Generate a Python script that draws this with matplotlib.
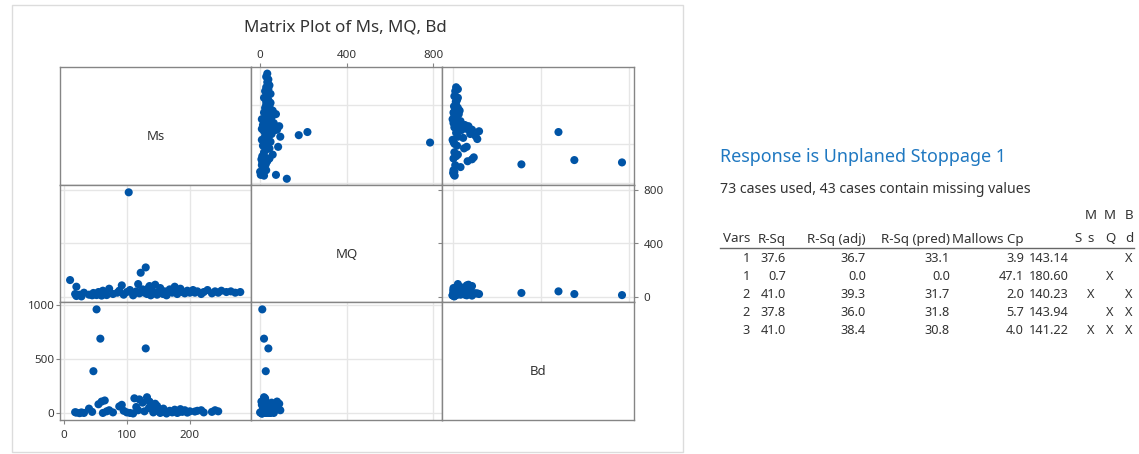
import matplotlib
matplotlib.use('Agg')
from matplotlib import pyplot as plt
from matplotlib.patches import Rectangle
import numpy as np

nan = np.nan

# matrix plot data (one row per case, nan = missing)
ms = [20, 25, 28, 32, 45, 47, 52, 55, 58, 60, 62, 65, 68, 72, 78, 85, 92, 95, 100, 103,
      105, 110, 115, 118, 120, 122, 125, 128, 130, 130, 132, 135, 138, 140, 142, 145, 148, 150,
      153, 156, 160, 163, 168, 172, 176, 180, 185, 188, 192, 196, 200, 205, 212, 218, 222, 228,
      235, 240, 245, 250, 258, 265, 272, 280, 10, 20, 18, 40, 88, 112, 136, 158, 182, 208]
mq = [5, 15, 2, 30, 10, 28, 12, 35, 20, 8, 45, 25, 12, 60, 20, 30, 85, 15, 35, 785,
      50, 10, 40, 95, 25, 180, 55, 30, 220, 40, 20, 70, 10, 45, 30, 90, 15, 35,
      65, 25, 40, 10, 55, 30, 75, 20, 60, 35, 25, 45, 30, 50, 40, 20, 35, 50,
      25, 40, 30, 45, 35, 40, 30, 35, 125, 75, 20, 15, 45, 25, 80, 20, 40, 30]
bd = [8, 3, 10, 5, 15, 390, 960, 85, 690, 110, 5, 120, 20, 30, 10, nan, 80, 25, 10, nan,
      5, 0, 60, 30, 130, nan, 100, 20, nan, 600, 150, 50, 80, 40, 10, 90, 70, 20,
      5, 30, 15, 0, 25, 10, 35, 5, 40, 15, 30, 8, 20, nan, 25, 30, 10, nan,
      15, 30, 20, nan, nan, nan, nan, nan, nan, nan, 12, 45, 65, 140, 110, 45, 12, 18]

var_names = ['Ms', 'MQ', 'Bd']
var_limits = [(-6, 297), (-40, 840), (-60, 1028)]
var_ticks = [[0, 100, 200], [0, 400, 800], [0, 500, 1000]]

# best subsets table
table_header = ['Vars', 'R-Sq', 'R-Sq (adj)', 'R-Sq (pred)', 'Mallows Cp']
vars_count = [1, 1, 2, 2, 3]
r_sq = [37.6, 0.7, 41.0, 37.8, 41.0]
r_sq_adj = [36.7, 0.0, 39.3, 36.0, 38.4]
r_sq_pred = [33.1, 0.0, 31.7, 31.8, 30.8]
mallows_cp = [3.9, 47.1, 2.0, 5.7, 4.0]
s_values = [143.14, 180.60, 140.23, 143.94, 141.22]
uses_ms = [False, False, True, False, True]
uses_mq = [False, True, False, True, True]
uses_bd = [True, False, True, True, True]

W, H = 1139, 454
blue = '#0054a6'
text_color = '#333333'
plt.rcParams['font.family'] = ['Noto Sans', 'DejaVu Sans']


def px_box(x0, y0, x1, y1):
    return [x0 / W, 1 - y1 / H, (x1 - x0) / W, (y1 - y0) / H]


fig = plt.figure(figsize=(W / 100, H / 100), dpi=100)

# light frame around the graph
fig.patches.append(Rectangle((12 / W, 1 - 452 / H), 671 / W, 447 / H, transform=fig.transFigure,
                             fill=False, edgecolor='#dcdcdc', linewidth=1))

fig.text(345 / W, 1 - 28 / H, 'Matrix Plot of Ms, MQ, Bd', ha='center', va='center',
         fontsize=12.2, color=text_color)

col_edges = [60, 251, 442, 634]
row_edges = [67, 185, 302, 420]
data = [np.array(ms, dtype=float), np.array(mq, dtype=float), np.array(bd, dtype=float)]

for r in range(3):
    for c in range(3):
        ax = fig.add_axes(px_box(col_edges[c], row_edges[r], col_edges[c + 1], row_edges[r + 1]))
        ax.set_xlim(*var_limits[c])
        ax.set_ylim(*var_limits[r])
        for spine in ax.spines.values():
            spine.set_color('#858585')
            spine.set_linewidth(1)
        ax.tick_params(axis='both', which='both', length=0, labelbottom=False, labelleft=False,
                       colors='#858585', labelcolor=text_color, labelsize=8.3)
        if r == c:
            ax.set_xticks([])
            ax.set_yticks([])
            ax.text(0.5, 0.41, var_names[r], transform=ax.transAxes, ha='center', va='center',
                    fontsize=9.5, color=text_color)
            continue
        ax.set_xticks(var_ticks[c])
        ax.set_yticks(var_ticks[r])
        ax.grid(True, color='#e6e6e6', linewidth=1)
        ax.set_axisbelow(True)
        x, y = data[c], data[r]
        ok = ~np.isnan(x) & ~np.isnan(y)
        ax.scatter(x[ok], y[ok], s=34, color=blue, edgecolors='none', zorder=3)

        # outer tick labels like Minitab
        if r == 0 and c == 1:
            ax.tick_params(axis='x', top=True, labeltop=True, length=3, pad=1)
        if r == 2 and c in (0, 2):
            ax.tick_params(axis='x', bottom=True, labelbottom=True, length=3, pad=4)
        if c == 0 and r in (0, 2):
            ax.tick_params(axis='y', left=True, labelleft=True, length=3, pad=1)
        if r == 1 and c == 2:
            ax.tick_params(axis='y', right=True, labelright=True, length=3, pad=4)

# right side: regression output
fig.text(720 / W, 1 - 157 / H, 'Response is Unplaned Stoppage 1', ha='left', va='center',
         fontsize=12.9, color='#1f78c1', fontweight='semibold')
fig.text(720 / W, 1 - 190 / H, '73 cases used, 43 cases contain missing values', ha='left',
         va='center', fontsize=10.2, color=text_color)

tsize = 9.6
nsize = 9.2
header_y = 1 - 239 / H
col_right = [750, 786, 866, 950, 1024]
for label, xr in zip(table_header, col_right):
    fig.text(xr / W, header_y, label, ha='right', va='center', fontsize=tsize, color=text_color)
s_right = 1069
fig.text(1082 / W, header_y, 'S', ha='right', va='center', fontsize=tsize, color=text_color)

flag_x = [1091, 1110, 1129]
for top, bottom, xc in zip(['M', 'M', 'B'], ['s', 'Q', 'd'], flag_x):
    fig.text(xc / W, 1 - 216 / H, top, ha='center', va='center', fontsize=tsize, color=text_color)
    fig.text(xc / W, header_y, bottom, ha='center', va='center', fontsize=tsize, color=text_color)

fig.add_artist(plt.Line2D([720 / W, 1134 / W], [1 - 248 / H, 1 - 248 / H],
                          transform=fig.transFigure, color='#666666', linewidth=1))

for i in range(len(vars_count)):
    yy = 1 - (258 + i * 18) / H
    cells = [str(vars_count[i]), '%.1f' % r_sq[i], '%.1f' % r_sq_adj[i], '%.1f' % r_sq_pred[i],
             '%.1f' % mallows_cp[i]]
    for cell, xr in zip(cells, col_right):
        fig.text(xr / W, yy, cell, ha='right', va='center', fontsize=nsize, color=text_color)
    fig.text(s_right / W, yy, '%.2f' % s_values[i], ha='right', va='center', fontsize=nsize,
             color=text_color)
    for flag, xc in zip([uses_ms[i], uses_mq[i], uses_bd[i]], flag_x):
        if flag:
            fig.text(xc / W, yy, 'X', ha='center', va='center', fontsize=nsize, color=text_color)

fig.savefig('out.png', dpi=100)
